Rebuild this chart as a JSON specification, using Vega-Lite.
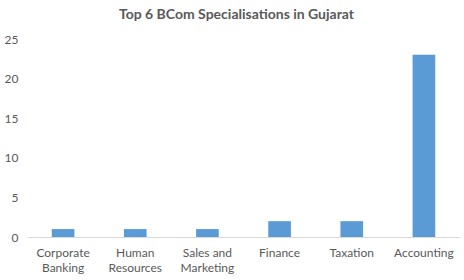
{
  "$schema": "https://vega.github.io/schema/vega-lite/v6.json",
  "autosize": {"type": "none"},
  "width": 433,
  "height": 198,
  "padding": {"left": 27, "top": 39, "right": 4, "bottom": 43},
  "background": "white",
  "title": {
    "text": "Top 6 BCom Specialisations in Gujarat",
    "font": "Lato",
    "fontSize": 14,
    "fontWeight": "bold",
    "color": "#595959",
    "anchor": "middle",
    "offset": 11,
    "dx": -7
  },
  "config": {"view": {"stroke": null}},
  "data": {
    "values": [
      {"specialisation": "Corporate Banking", "count": 1},
      {"specialisation": "Human Resources", "count": 1},
      {"specialisation": "Sales and Marketing", "count": 1},
      {"specialisation": "Finance", "count": 2},
      {"specialisation": "Taxation", "count": 2},
      {"specialisation": "Accounting", "count": 23}
    ]
  },
  "mark": {"type": "bar", "color": "#5B9BD5"},
  "encoding": {
    "x": {
      "field": "specialisation",
      "type": "nominal",
      "sort": null,
      "scale": {"paddingInner": 0.686, "paddingOuter": 0.343},
      "axis": {
        "title": null,
        "labelAngle": 0,
        "labelFont": "Lato",
        "labelFontSize": 12,
        "labelColor": "#595959",
        "labelLineHeight": 15,
        "labelPadding": 10,
        "ticks": false,
        "domainColor": "#D9D9D9",
        "labelExpr": "datum.label == 'Sales and Marketing' ? ['Sales and', 'Marketing'] : split(datum.label, ' ')"
      }
    },
    "y": {
      "field": "count",
      "type": "quantitative",
      "scale": {"domain": [0, 25]},
      "axis": {
        "title": null,
        "values": [0, 5, 10, 15, 20, 25],
        "grid": false,
        "domain": false,
        "ticks": false,
        "labelFont": "Lato",
        "labelFontSize": 12,
        "labelColor": "#595959",
        "labelPadding": 9
      }
    }
  }
}
